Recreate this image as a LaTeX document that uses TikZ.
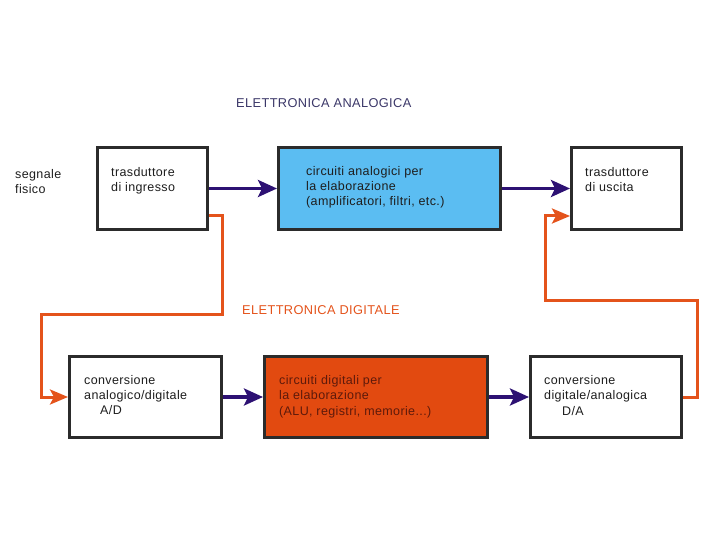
\documentclass[tikz,border=0pt]{standalone}
\usepackage{fontspec}
\setmainfont{Liberation Sans}[LetterSpace=3]
\usetikzlibrary{arrows.meta}
\definecolor{boxline}{HTML}{2B2B2B}
\definecolor{blueFill}{HTML}{5BBDF2}
\definecolor{orangeFill}{HTML}{E24A10}
\definecolor{orangeLine}{HTML}{E4531B}
\definecolor{purpleLine}{HTML}{2D1173}
\definecolor{titleBlue}{HTML}{3B3768}
\definecolor{darkRed}{HTML}{5E1A0B}
\definecolor{textGray}{HTML}{1E1E1E}
\tikzset{
  blockbox/.style={draw=boxline, line width=3pt, inner sep=0pt, fill=white},
  txt/.style={anchor=north west, inner sep=0pt, align=left, text=textGray,
    font=\fontsize{12.5}{15.2}\selectfont},
  titletxt/.style={anchor=base west, inner sep=0pt, font=\fontsize{12.8}{15}\selectfont},
  purplearrow/.style={draw=purpleLine, line width=3.4pt,
    -{Stealth[length=19pt,width=17pt,inset=4pt]}},
  orangearrow/.style={draw=orangeLine, line width=3pt,
    -{Stealth[length=18pt,width=15pt,inset=4pt]}},
}
\begin{document}
\begin{tikzpicture}[x=1pt,y=-1pt]
\useasboundingbox (0,0) rectangle (720,540);
% boxes
\node[blockbox, minimum width=110pt, minimum height=82pt] (b1) at (152.5,188.5) {};
\node[blockbox, fill=blueFill, minimum width=222pt, minimum height=82pt] (b2) at (389.5,188.5) {};
\node[blockbox, minimum width=110pt, minimum height=82pt] (b3) at (626.5,188.5) {};
\node[blockbox, minimum width=152pt, minimum height=81pt] (b4) at (145.5,397) {};
\node[blockbox, fill=orangeFill, minimum width=223pt, minimum height=81pt] (b5) at (376,397) {};
\node[blockbox, minimum width=151pt, minimum height=81pt] (b6) at (606,397) {};
% texts
\node[txt] (tsf) at (15,169) {segnale\\fisico};
\node[txt] (t1) at (111,167) {trasduttore\\di ingresso};
\node[txt] (t2) at (306,166) {circuiti analogici per\\la elaborazione\\(amplificatori, filtri, etc.)};
\node[txt] (t3) at (585,167) {trasduttore\\di uscita};
\node[txt] (t4) at (84,375) {conversione\\analogico/digitale\\\hspace*{16pt}A/D};
\node[txt, text=darkRed] (t5) at (279,375.5) {circuiti digitali per\\la elaborazione\\(ALU, registri, memorie...)};
\node[txt] (t6) at (544,375.5) {conversione\\digitale/analogica\\\hspace*{18pt}D/A};
\node[titletxt, text=titleBlue] (ta) at (236,108) {ELETTRONICA ANALOGICA};
\node[titletxt, text=orangeLine] (td) at (242,314.5) {ELETTRONICA DIGITALE};
% purple arrows
\draw[purplearrow] (b1.east) -- (b2.west);
\draw[purplearrow] (b2.east) -- (b3.west);
\draw[purplearrow] (b4.east) -- (b5.west);
\draw[purplearrow] (b5.east) -- (b6.west);
% orange paths
\coordinate (l1) at (222,314);
\coordinate (l2) at (41,397);
\coordinate (r1) at (697,300);
\coordinate (r2) at (545,216);
\draw[orangearrow] (b1.east |- 0,216) -| (l1) -| (l2) -- (b4.west);
\draw[orangearrow] (b6.east) -| (r1) -| (r2) -- (b3.west |- r2);
\end{tikzpicture}
\end{document}
